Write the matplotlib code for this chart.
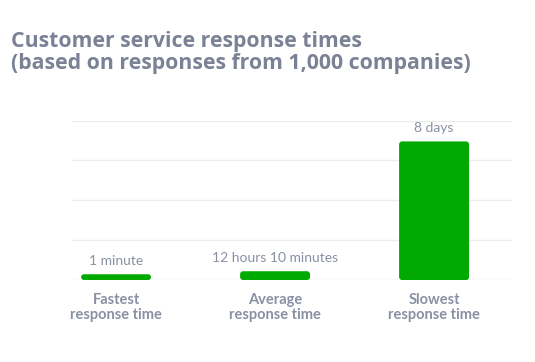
import matplotlib
matplotlib.use("Agg")
import matplotlib.pyplot as plt
from matplotlib.patches import FancyBboxPatch

plt.rcParams['font.family'] = ['Lato', 'DejaVu Sans']

# data: response times in hours
categories = ["Fastest\nresponse time", "Average\nresponse time", "Slowest\nresponse time"]
response_hours = [1 / 60, 12 + 10 / 60, 8 * 24]
value_labels = ["1 minute", "12 hours 10 minutes", "8 days"]

green = "#00aa00"
grey = "#7b8296"

fig = plt.figure(figsize=(5.35, 3.62), dpi=100)
ax = fig.add_axes([0.1346, 0.2265, 0.8224, 0.4406])

ymax = 221
min_h = ymax * 0.036  # tiny bars still get drawn
width = 0.44
heights = [max(v, min_h) for v in response_hours]
bars = ax.bar(range(len(heights)), heights, width=width, color=green, zorder=3)

# swap the square bars for slightly rounded ones
r = 0.019
aspect = (ymax / 160) * 159
for b in bars:
    x, y = b.get_x(), b.get_y()
    w, h = b.get_width(), b.get_height()
    b.set_visible(False)
    ax.add_patch(FancyBboxPatch((x + r, y + r * aspect), w - 2 * r, h - 2 * r * aspect,
                                boxstyle=f"round,pad={r},rounding_size={r}",
                                mutation_aspect=aspect, facecolor=green,
                                edgecolor="none", zorder=3))

for i, h in enumerate(heights):
    ax.text(i, h + ymax * 0.045, value_labels[i], ha="center", va="bottom",
            fontsize=10, color="#8a90a4")

ax.set_xlim(-0.277, 2.49)
ax.set_ylim(0, ymax)
ax.set_yticks([0, ymax / 4, ymax / 2, ymax * 3 / 4, ymax])
ax.set_yticklabels([])
ax.grid(axis="y", color="#ececec", linewidth=1, zorder=0)
ax.tick_params(length=0)
for s in ax.spines.values():
    s.set_visible(False)
ax.set_xticks(range(len(categories)))
ax.set_xticklabels(categories, fontsize=10.5, fontweight="bold", color="#8a90a4",
                   linespacing=1.1)
ax.tick_params(axis="x", pad=9)

fig.text(0.0205, 0.915, "Customer service response times\n(based on responses from 1,000 companies)",
         ha="left", va="top", fontsize=15.3, fontweight="bold", color=grey,
         linespacing=1.1, family=["Open Sans", "DejaVu Sans"])

fig.savefig("out.png", dpi=100)
